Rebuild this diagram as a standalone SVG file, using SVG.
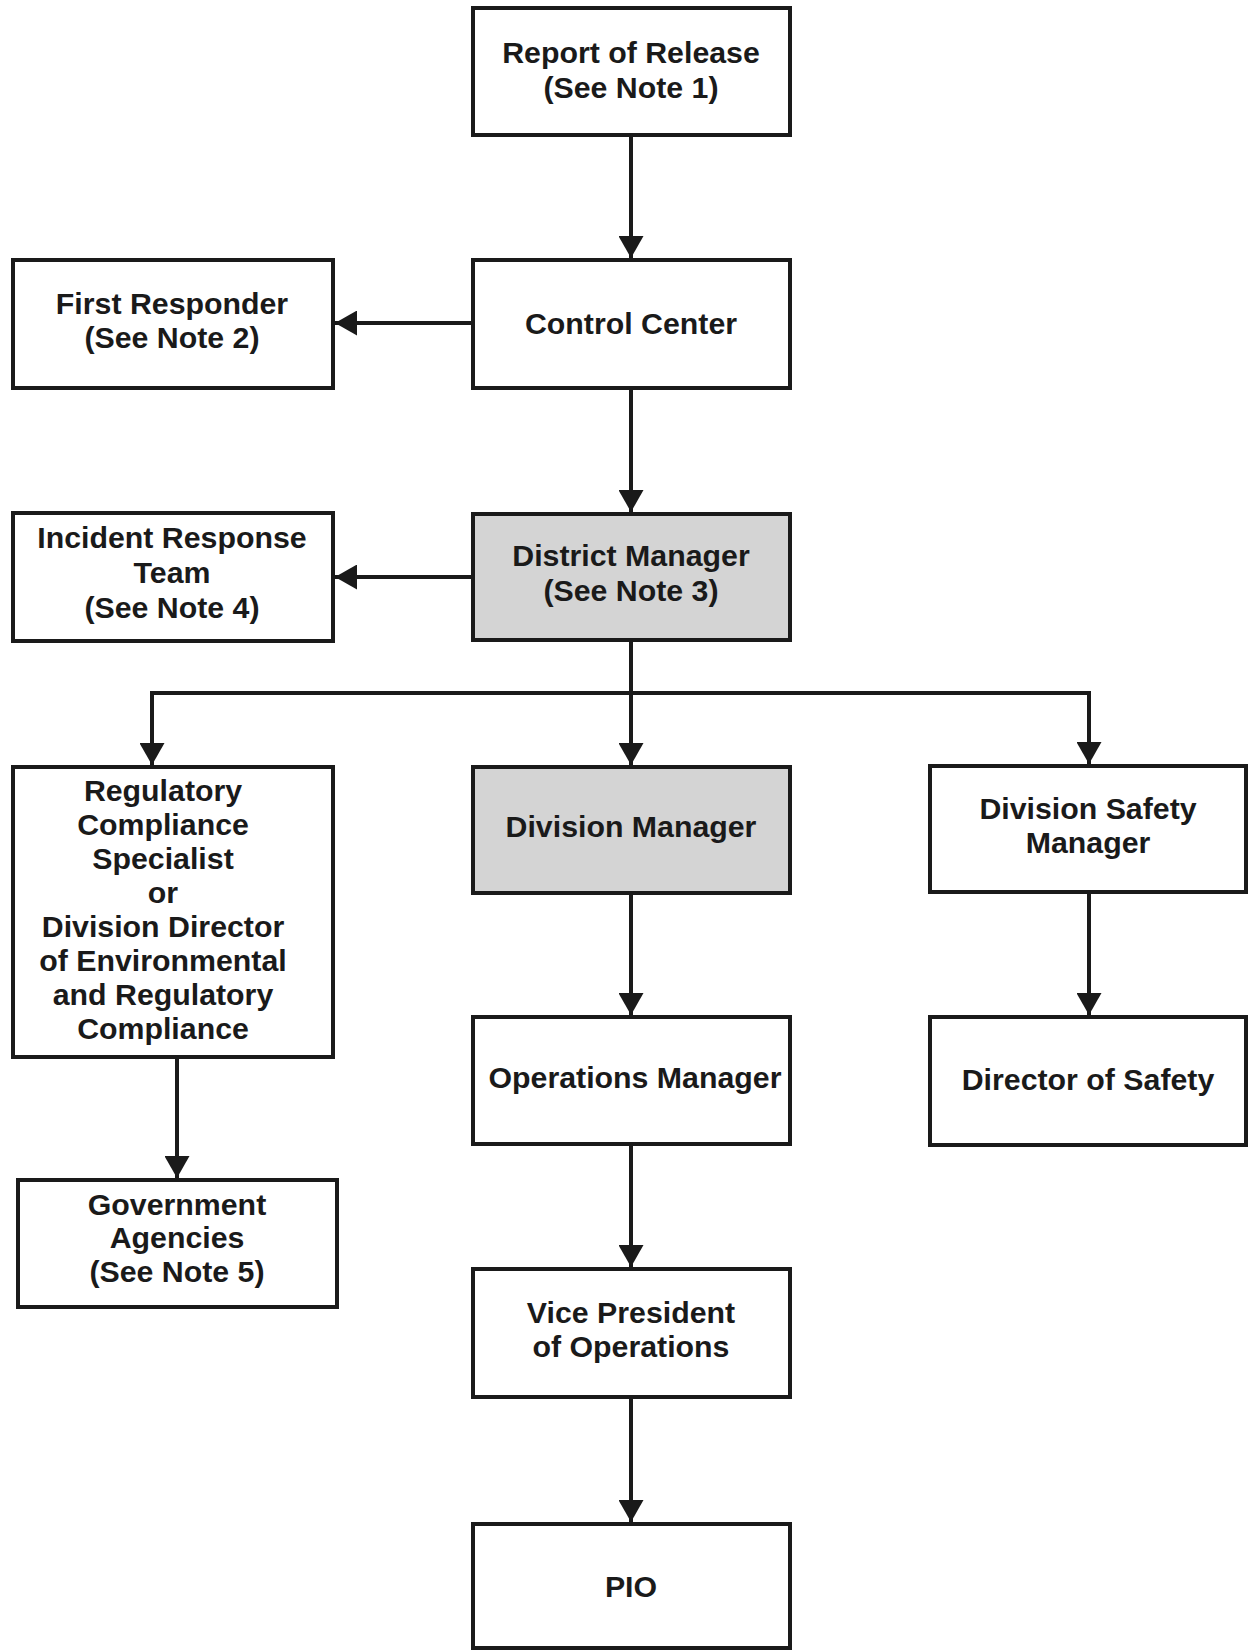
<svg xmlns="http://www.w3.org/2000/svg" width="1248" height="1652" viewBox="0 0 1248 1652">
  <style>
    .box { fill: #ffffff; stroke: #1a1a1a; stroke-width: 4; }
    .box.shade { fill: #d4d4d4; }
    .lbl { font-family: "Liberation Sans", Arial, sans-serif; font-weight: bold; font-size: 30.3px; fill: #1a1a1a; text-anchor: middle; }
    .wire { fill: none; stroke: #1a1a1a; stroke-width: 4; stroke-linejoin: miter; marker-end: url(#head); }
  </style>
  <defs>
    <marker id="head" markerUnits="userSpaceOnUse" markerWidth="22" markerHeight="25" refX="22" refY="12.5" orient="auto">
      <path d="M0,0 L22,12.5 L0,25 Z" fill="#1a1a1a"/>
    </marker>
  </defs>
  <rect width="1248" height="1652" fill="#ffffff"/>

  <!-- connectors -->
  <g id="connectors">
    <path class="wire" d="M631,135 V258"/>
    <path class="wire" d="M473,323 H335"/>
    <path class="wire" d="M631,388 V512"/>
    <path class="wire" d="M473,577 H335"/>
    <path class="wire" d="M631,640 V765"/>
    <path class="wire" d="M631,693 H152 V765"/>
    <path class="wire" d="M631,693 H1089 V764"/>
    <path class="wire" d="M631,893 V1015"/>
    <path class="wire" d="M631,1144 V1267"/>
    <path class="wire" d="M631,1397 V1522"/>
    <path class="wire" d="M1089,892 V1015"/>
    <path class="wire" d="M177,1057 V1178"/>
  </g>

  <!-- nodes -->
  <g id="report-of-release">
    <rect class="box" x="473" y="8" width="317" height="127"/>
    <text class="lbl" x="631" y="63">Report of Release</text>
    <text class="lbl" x="631" y="98">(See Note 1)</text>
  </g>
  <g id="control-center">
    <rect class="box" x="473" y="260" width="317" height="128"/>
    <text class="lbl" x="631" y="334">Control Center</text>
  </g>
  <g id="first-responder">
    <rect class="box" x="13" y="260" width="320" height="128"/>
    <text class="lbl" x="172" y="314">First Responder</text>
    <text class="lbl" x="172" y="348">(See Note 2)</text>
  </g>
  <g id="district-manager">
    <rect class="box shade" x="473" y="514" width="317" height="126"/>
    <text class="lbl" x="631" y="566">District Manager</text>
    <text class="lbl" x="631" y="601">(See Note 3)</text>
  </g>
  <g id="incident-response-team">
    <rect class="box" x="13" y="513" width="320" height="128"/>
    <text class="lbl" x="172" y="548">Incident Response</text>
    <text class="lbl" x="172" y="583">Team</text>
    <text class="lbl" x="172" y="618">(See Note 4)</text>
  </g>
  <g id="regulatory-compliance">
    <rect class="box" x="13" y="767" width="320" height="290"/>
    <text class="lbl" x="163" y="801">Regulatory</text>
    <text class="lbl" x="163" y="835">Compliance</text>
    <text class="lbl" x="163" y="869">Specialist</text>
    <text class="lbl" x="163" y="903">or</text>
    <text class="lbl" x="163" y="937">Division Director</text>
    <text class="lbl" x="163" y="971">of Environmental</text>
    <text class="lbl" x="163" y="1005">and Regulatory</text>
    <text class="lbl" x="163" y="1039">Compliance</text>
  </g>
  <g id="division-manager">
    <rect class="box shade" x="473" y="767" width="317" height="126"/>
    <text class="lbl" x="631" y="837">Division Manager</text>
  </g>
  <g id="division-safety-manager">
    <rect class="box" x="930" y="766" width="316" height="126"/>
    <text class="lbl" x="1088" y="819">Division Safety</text>
    <text class="lbl" x="1088" y="853">Manager</text>
  </g>
  <g id="operations-manager">
    <rect class="box" x="473" y="1017" width="317" height="127"/>
    <text class="lbl" x="635" y="1088">Operations Manager</text>
  </g>
  <g id="director-of-safety">
    <rect class="box" x="930" y="1017" width="316" height="128"/>
    <text class="lbl" x="1088" y="1090">Director of Safety</text>
  </g>
  <g id="government-agencies">
    <rect class="box" x="18" y="1180" width="319" height="127"/>
    <text class="lbl" x="177" y="1215">Government</text>
    <text class="lbl" x="177" y="1248">Agencies</text>
    <text class="lbl" x="177" y="1282">(See Note 5)</text>
  </g>
  <g id="vice-president-operations">
    <rect class="box" x="473" y="1269" width="317" height="128"/>
    <text class="lbl" x="631" y="1323">Vice President</text>
    <text class="lbl" x="631" y="1357">of Operations</text>
  </g>
  <g id="pio">
    <rect class="box" x="473" y="1524" width="317" height="124"/>
    <text class="lbl" x="631" y="1597">PIO</text>
  </g>
</svg>
